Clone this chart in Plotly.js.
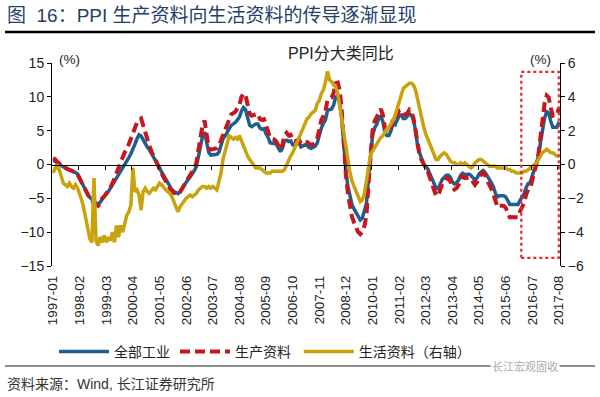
<!DOCTYPE html>
<html><head><meta charset="utf-8">
<script src="https://cdn.plot.ly/plotly-3.0.1.min.js"></script>
<style>html,body{margin:0;padding:0;background:#fff}#chart{width:600px;height:397px}</style>
</head><body><div id="chart"></div>
<script>
// monthly categories 1997-01 .. 2017-08
const startYear = 1997, nMonths = 248;
const months = [];
for (let k = 0; k < nMonths; k++) {
  const y = startYear + Math.floor(k / 12), m = (k % 12) + 1;
  months.push(y + '-' + (m < 10 ? '0' + m : m));
}
const tickLabels = ['1997-01','1998-02','1999-03','2000-04','2001-05','2002-06','2003-07','2004-08','2005-09','2006-10',
  '2007-11','2008-12','2010-01','2011-02','2012-03','2013-04','2014-05','2015-06','2016-07','2017-08'];

// 全部工业 PPI yoy (%), left axis
const ppiAll = [
  0.6, 0.5, 0.2, 0.0, -0.2, -0.4, -0.6, -0.7, -0.8, -0.9, -1.0, -1.2,
  -1.4, -2.0, -2.7, -3.4, -4.0, -4.5, -4.9, -5.2, -5.5, -5.7, -5.8, -5.6,
  -5.1, -4.8, -4.4, -4.0, -3.5, -3.0, -2.5, -2.0, -1.6, -1.1, -0.6, -0.2,
  0.4, 1.0, 1.6, 2.2, 3.0, 3.8, 4.4, 4.2, 3.6, 3.0, 2.6, 2.2,
  1.7, 1.2, 0.6, 0.0, -0.5, -1.1, -1.6, -2.2, -2.8, -3.3, -3.7, -4.0,
  -4.1, -4.3, -4.0, -3.5, -3.0, -2.6, -2.2, -1.8, -1.4, -0.9, -0.3, 1.2,
  3.0, 4.2, 4.8, 3.2, 1.8, 1.4, 1.4, 1.5, 1.5, 1.8, 3.0, 3.8,
  4.2, 4.8, 5.4, 5.8, 6.0, 6.2, 6.6, 7.0, 7.9, 8.4, 8.1, 7.1,
  5.8, 5.6, 5.8, 6.0, 6.0, 5.4, 5.2, 5.3, 4.5, 4.0, 3.2, 3.2,
  3.1, 3.0, 2.5, 1.9, 2.4, 3.5, 3.6, 3.4, 3.5, 2.9, 2.8, 3.1,
  3.3, 2.6, 2.7, 2.9, 2.8, 2.5, 2.4, 2.6, 2.7, 3.2, 4.6, 5.4,
  6.1, 6.6, 8.0, 8.1, 8.2, 8.8, 10.0, 10.1, 9.1, 6.6, 2.0, -1.1,
  -3.3, -4.5, -6.0, -6.6, -7.2, -7.8, -8.2, -7.9, -7.0, -5.8, -2.1, 1.7,
  4.3, 5.4, 5.9, 6.8, 7.1, 6.4, 4.8, 4.3, 4.3, 5.0, 6.1, 5.9,
  6.6, 7.2, 7.3, 6.8, 6.8, 7.1, 7.5, 7.3, 6.5, 5.0, 2.7, 1.7,
  0.7, 0.0, -0.3, -0.7, -1.4, -2.1, -2.9, -3.5, -3.6, -2.8, -2.2, -1.9,
  -1.6, -1.6, -1.9, -2.6, -2.9, -2.7, -2.3, -1.6, -1.3, -1.5, -1.4, -1.4,
  -1.6, -2.0, -2.3, -2.0, -1.4, -1.1, -0.9, -1.2, -1.8, -2.2, -2.7, -3.3,
  -4.3, -4.8, -4.6, -4.6, -4.6, -4.8, -5.4, -5.9, -5.9, -5.9, -5.9, -5.9,
  -5.3, -4.9, -4.3, -3.4, -2.8, -2.6, -1.7, -0.8, 0.1, 1.2, 3.3, 5.5,
  6.9, 7.8, 7.6, 6.4, 5.5, 5.5, 5.5, 6.3
];
// 生产资料 PPI yoy (%), left axis
const ppiProducer = [
  0.9, 0.8, 0.4, 0.1, -0.1, -0.3, -0.5, -0.7, -0.8, -0.9, -1.0, -1.2,
  -1.5, -2.1, -2.8, -3.5, -4.1, -4.6, -5.0, -5.4, -5.7, -6.0, -6.1, -5.8,
  -5.0, -4.7, -4.3, -3.9, -3.4, -2.8, -2.0, -1.2, -0.4, 0.4, 1.0, 1.8,
  2.2, 3.0, 3.8, 4.8, 5.6, 6.2, 6.6, 6.8, 5.8, 4.6, 3.6, 2.8,
  2.0, 1.3, 0.5, -0.1, -0.6, -1.3, -1.9, -2.5, -3.0, -3.5, -3.9, -4.2,
  -4.2, -4.4, -4.1, -3.6, -3.0, -2.5, -2.0, -1.5, -1.0, -0.5, 0.3, 1.8,
  4.0, 5.8, 6.5, 4.4, 2.4, 2.2, 2.3, 2.4, 2.4, 2.8, 3.6, 4.6,
  5.2, 6.0, 6.8, 7.4, 7.6, 7.8, 8.3, 8.8, 10.0, 10.5, 10.2, 8.9,
  7.5, 7.2, 7.3, 7.5, 7.5, 6.7, 6.6, 6.7, 5.5, 4.9, 3.9, 3.8,
  3.7, 3.4, 2.9, 2.2, 2.9, 4.3, 4.7, 4.3, 4.4, 3.6, 3.4, 3.6,
  3.7, 3.1, 3.2, 3.4, 3.3, 3.0, 2.9, 3.0, 3.2, 3.8, 5.6, 6.6,
  7.2, 7.9, 9.6, 9.8, 9.9, 10.6, 12.0, 12.1, 10.9, 7.8, 2.2, -1.6,
  -4.4, -6.0, -7.8, -8.6, -9.4, -10.0, -10.3, -10.0, -9.1, -7.6, -2.9, 1.8,
  5.0, 6.4, 7.0, 7.8, 8.2, 7.4, 5.5, 4.8, 4.8, 5.5, 6.8, 6.6,
  7.3, 8.0, 8.1, 7.4, 7.4, 7.6, 8.1, 7.8, 6.8, 5.0, 2.4, 1.3,
  0.6, -0.1, -0.5, -1.1, -2.0, -2.8, -3.9, -4.6, -4.6, -3.7, -2.9, -2.5,
  -2.0, -2.1, -2.5, -3.3, -3.7, -3.5, -3.0, -2.1, -1.7, -2.0, -1.9, -1.9,
  -2.1, -2.6, -3.0, -2.6, -1.9, -1.5, -1.2, -1.6, -2.4, -2.9, -3.6, -4.4,
  -5.6, -6.3, -6.1, -6.1, -6.1, -6.4, -7.1, -7.8, -7.8, -7.8, -7.8, -7.8,
  -6.9, -6.4, -5.7, -4.4, -3.7, -3.5, -2.4, -1.2, 0.1, 1.6, 4.4, 7.2,
  9.1, 10.2, 9.9, 8.3, 7.2, 7.3, 7.3, 8.4
];
// 生活资料 PPI yoy (%), right axis
const ppiConsumer = [
  -0.5, -0.2, 0.0, -0.3, -0.7, -1.1, -1.2, -1.3, -1.1, -1.3, -1.4, -1.2,
  -1.4, -1.7, -2.1, -2.6, -3.1, -3.8, -4.4, -4.6, -0.8, -4.5, -4.8, -4.3,
  -4.6, -4.2, -4.6, -4.3, -4.5, -4.0, -4.6, -3.6, -4.3, -3.6, -4.0, -3.5,
  -3.0, -2.8, -2.4, -0.2, -1.6, -1.5, -1.8, -2.7, -1.6, -1.4, -1.6, -1.7,
  -1.5, -1.4, -1.5, -1.3, -1.1, -1.2, -1.4, -1.5, -1.6, -1.7, -1.9, -2.2,
  -2.5, -2.8, -2.5, -2.3, -2.1, -2.0, -1.9, -1.8, -1.9, -1.8, -1.7, -1.5,
  -1.4, -1.3, -1.3, -1.4, -1.3, -1.4, -1.3, -1.4, -1.5, -1.0, -0.5, 0.3,
  0.8, 1.3, 1.7, 1.6, 1.5, 1.6, 1.5, 1.7, 1.4, 1.0, 0.8, 0.5,
  0.3, 0.1, -0.1, -0.2, -0.2, -0.2, -0.3, -0.4, -0.5, -0.5, -0.5, -0.4,
  -0.4, -0.4, -0.4, -0.4, -0.4, -0.3, 0.0, 0.3, 0.5, 0.7, 1.0, 1.3,
  1.6, 1.9, 2.2, 2.5, 2.7, 2.8, 3.0, 3.1, 3.2, 3.6, 3.8, 4.2,
  4.4, 4.9, 5.5, 5.0, 4.9, 4.7, 4.6, 4.2, 3.4, 2.5, 1.7, 0.9,
  0.2, -0.5, -1.0, -1.3, -1.6, -1.9, -2.2, -2.1, -1.7, -1.0, -0.1, 0.6,
  0.8, 1.0, 1.2, 1.4, 1.6, 1.7, 1.9, 2.1, 2.2, 2.4, 2.6, 2.9,
  3.3, 3.8, 4.2, 4.5, 4.6, 4.7, 4.8, 4.8, 4.7, 4.4, 3.8, 3.2,
  2.7, 2.2, 1.8, 1.5, 1.2, 0.9, 0.6, 0.3, 0.3, 0.5, 0.6, 0.7,
  0.6, 0.4, 0.2, 0.1, 0.1, 0.0, 0.0, 0.1, 0.0, 0.1, 0.0, -0.1,
  -0.2, -0.1, 0.1, 0.2, 0.3, 0.3, 0.2, 0.1, 0.0, -0.1, -0.1, -0.1,
  -0.1, -0.2, -0.2, -0.2, -0.2, -0.2, -0.3, -0.3, -0.4, -0.4, -0.5, -0.5,
  -0.5, -0.5, -0.4, -0.4, -0.3, -0.2, -0.1, 0.0, 0.1, 0.3, 0.5, 0.7,
  0.8, 0.9, 0.8, 0.7, 0.7, 0.6, 0.5, 0.5
];

const seriesNames = ['全部工业', '生产资料\u2009', '生活资料（右轴）'];
const colBlue = '#1F5F8E', colRed = '#C8161E', colGold = '#C9A20C';

// pixel helpers for plot area: x 52..560, y 63..266
const L = 52, R = 560, T = 63, B = 266;
const px = v => (v - L) / (R - L);
const py = v => (B - v) / (B - T);

const FONT = 'Liberation Sans, Arial, Noto Sans CJK SC, sans-serif';

const boundaryTicks = [];
for (let k = 1; k < tickLabels.length; k++) boundaryTicks.push(13 * k - 0.5);

const traces = [
  {x: months, y: ppiAll, name: seriesNames[0], type: 'scatter', mode: 'lines',
   line: {color: colBlue, width: 3.5}, xaxis: 'x', yaxis: 'y'},
  {x: months, y: ppiProducer, name: seriesNames[1], type: 'scatter', mode: 'lines',
   line: {color: colRed, width: 4, dash: '10px,5px'}, xaxis: 'x', yaxis: 'y'},
  {x: months, y: ppiConsumer, name: seriesNames[2], type: 'scatter', mode: 'lines',
   line: {color: colGold, width: 3.5}, xaxis: 'x', yaxis: 'y2'},
  {x: [null], y: [null], xaxis: 'x2', yaxis: 'y', showlegend: false, hoverinfo: 'skip', mode: 'lines'}
];

const layout = {
  width: 600, height: 397,
  margin: {l: L, r: 600 - R, t: T, b: 397 - B, pad: 0},
  paper_bgcolor: '#fff', plot_bgcolor: '#fff',
  font: {family: FONT, size: 13, color: '#222'},
  showlegend: true,
  legend: {orientation: 'h', x: px(54), xanchor: 'left', y: py(352), yanchor: 'middle',
    font: {size: 14, color: '#222'}, itemwidth: 50,
    bgcolor: 'rgba(0,0,0,0)', traceorder: 'normal'},
  xaxis: {type: 'category', range: [-0.5, nMonths - 0.5], tickmode: 'array', tickvals: tickLabels,
    ticktext: tickLabels, tickangle: -90, ticks: '', showline: false, showgrid: false, zeroline: false,
    ticklabelstandoff: 6, tickfont: {size: 13.5, color: '#222'}, fixedrange: true},
  xaxis2: {overlaying: 'x', anchor: 'free', position: 0.5, type: 'linear', range: [-0.5, nMonths - 0.5],
    tickmode: 'array', tickvals: boundaryTicks, showticklabels: false, ticks: 'outside', ticklen: 4,
    tickcolor: '#000', showline: true, linecolor: '#000', linewidth: 1, showgrid: false, zeroline: false},
  yaxis: {range: [-15, 15], tickmode: 'array', tickvals: [-15, -10, -5, 0, 5, 10, 15],
    ticks: 'outside', ticklen: 4, tickcolor: '#000', showline: true, linecolor: '#000', linewidth: 1,
    showgrid: false, zeroline: false, tickfont: {size: 14, color: '#222'}},
  yaxis2: {range: [-6, 6], overlaying: 'y', side: 'right', tickmode: 'array', tickvals: [-6, -4, -2, 0, 2, 4, 6],
    ticks: 'outside', ticklen: 4, tickcolor: '#000', showline: true, linecolor: '#000', linewidth: 1,
    showgrid: false, zeroline: false, tickfont: {size: 14, color: '#222'}},
  shapes: [
    {type: 'line', xref: 'paper', yref: 'paper', x0: px(5), x1: px(595), y0: py(32), y1: py(32),
     line: {color: '#000', width: 2.5}},
    {type: 'line', xref: 'paper', yref: 'paper', x0: px(5), x1: px(595), y0: py(366), y1: py(366),
     line: {color: '#222', width: 1.2}},
    {type: 'rect', xref: 'x2', yref: 'y', x0: 228.6, x1: 246.9, y0: -13.8, y1: 13.7,
     line: {color: '#E3262E', width: 2.2, dash: 'dot'}}
  ],
  annotations: [
    {text: '图  16：PPI 生产资料向生活资料的传导逐渐显现', xref: 'paper', yref: 'paper',
     x: px(5), y: py(15), xanchor: 'left', yanchor: 'middle', showarrow: false,
     font: {size: 19, color: '#24406a', family: FONT}},
    {text: 'PPI分大类同比', xref: 'paper', yref: 'paper', x: px(341), y: py(53),
     xanchor: 'center', yanchor: 'middle', showarrow: false, font: {size: 16, color: '#222'}},
    {text: '(%)', xref: 'paper', yref: 'paper', x: px(69), y: py(60), xanchor: 'center', yanchor: 'middle',
     showarrow: false, font: {size: 13.5, color: '#222'}},
    {text: '(%)', xref: 'paper', yref: 'paper', x: px(540), y: py(60), xanchor: 'center', yanchor: 'middle',
     showarrow: false, font: {size: 13.5, color: '#222'}},
    {text: '资料来源：Wind, 长江证券研究所', xref: 'paper', yref: 'paper', x: px(5), y: py(384),
     xanchor: 'left', yanchor: 'middle', showarrow: false, font: {size: 14, color: '#333'}},
    {text: '长江宏观固收', xref: 'paper', yref: 'paper', x: px(525), y: py(366),
     xanchor: 'center', yanchor: 'middle', showarrow: false, bgcolor: '#fff',
     font: {size: 11, color: '#aaa'}}
  ]
};

Plotly.newPlot('chart', traces, layout, {displayModeBar: false, staticPlot: true});
</script>
</body></html>
